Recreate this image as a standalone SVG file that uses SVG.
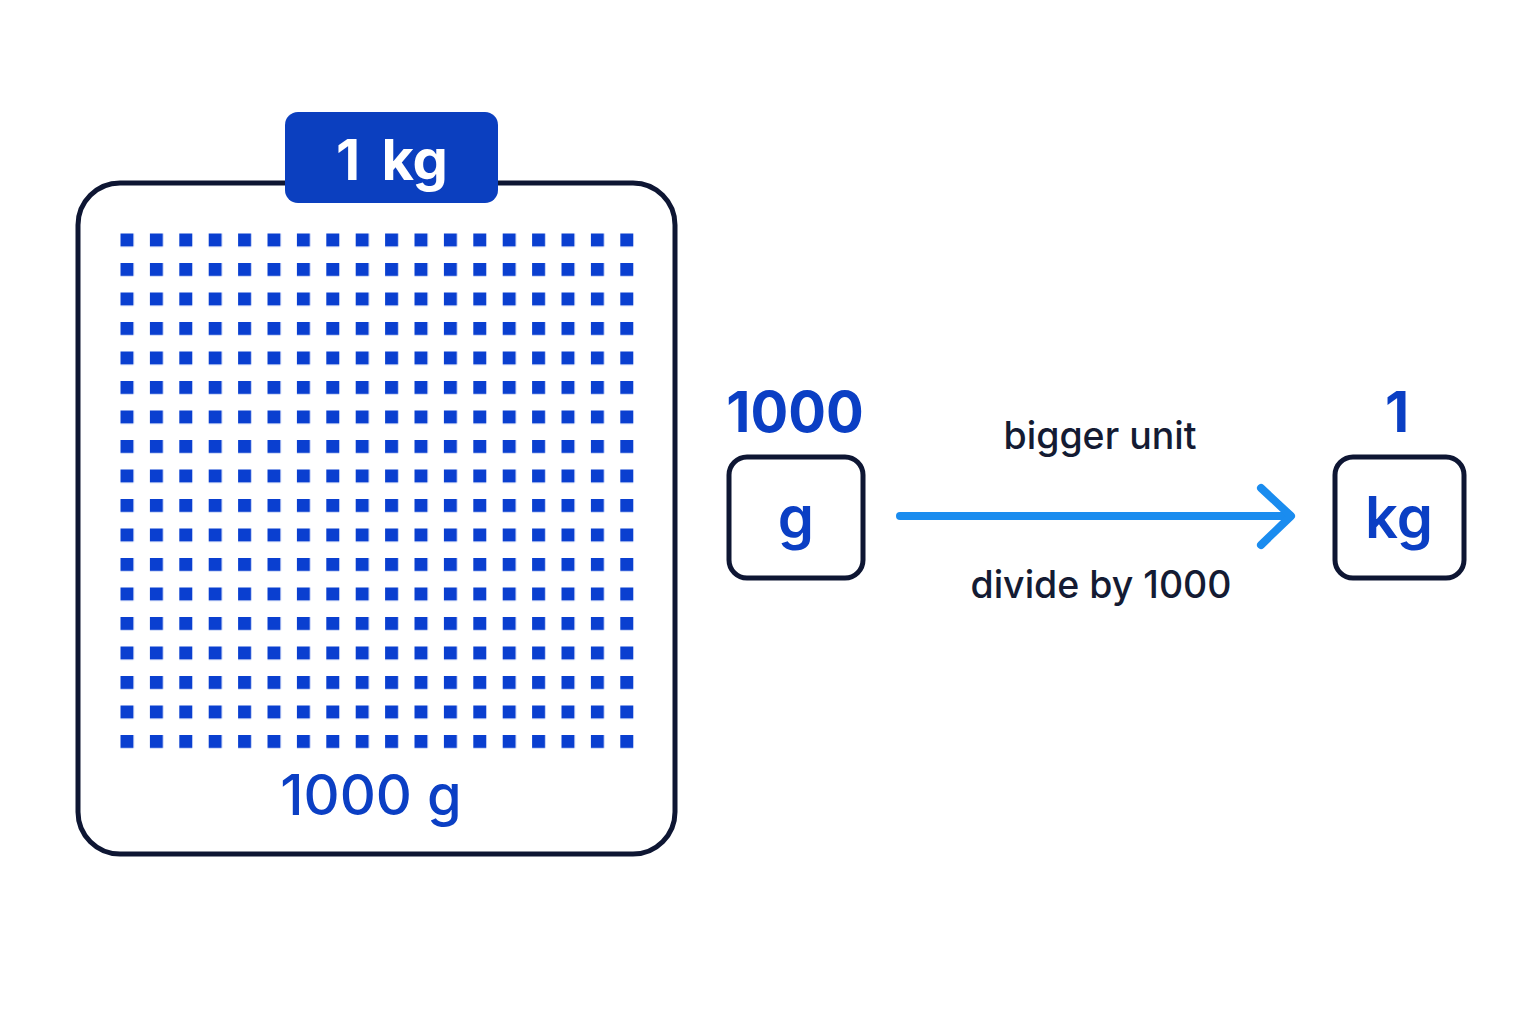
<svg xmlns="http://www.w3.org/2000/svg" width="1536" height="1024" viewBox="0 0 1536 1024">
<defs>
<style>
.frame{fill:#ffffff;stroke:#0e1633;stroke-width:5}
.blue{fill:#0b3fc4;font-family:Inter,"Liberation Sans",sans-serif;text-anchor:middle}
.dark{fill:#141b33;font-family:Inter,"Liberation Sans",sans-serif;text-anchor:middle;font-size:37.5px;font-weight:500}
.conn{stroke:#1a8cef;stroke-width:8;fill:none;stroke-linecap:round;stroke-linejoin:round}
</style>
<pattern id="dots" x="120.5" y="233.5" width="29.4" height="29.5" patternUnits="userSpaceOnUse">
<rect x="0" y="0" width="13" height="13" fill="#0a3fd0"/>
</pattern>
</defs>
<rect width="1536" height="1024" fill="#ffffff"/>
<g id="node-kg-block">
<rect class="frame" x="78" y="183" width="597" height="671" rx="42"/>
<rect x="118" y="230" width="520" height="520" fill="url(#dots)"/>
<rect x="285" y="112" width="213" height="91" rx="13" fill="#0b3fbf"/>
<text x="392" y="180" font-family="Inter,'Liberation Sans',sans-serif" font-size="56" font-weight="700" fill="#ffffff" text-anchor="middle" word-spacing="8">1 kg</text>
<text class="blue" x="371" y="815" font-size="56" font-weight="500">1000 g</text>
</g>
<g id="node-g">
<text class="blue" x="795" y="432" font-size="56" font-weight="700">1000</text>
<rect class="frame" x="729" y="457" width="134" height="121" rx="18"/>
<text class="blue" x="796" y="538" font-size="58" font-weight="600">g</text>
</g>
<g id="node-kgunit">
<text class="blue" x="1397" y="432" font-size="56" font-weight="700">1</text>
<rect class="frame" x="1335" y="457" width="129" height="121" rx="18"/>
<text class="blue" x="1399" y="538" font-size="58" font-weight="600">kg</text>
</g>
<g id="connectors">
<line class="conn" x1="900" y1="516" x2="1290" y2="516"/>
<polyline class="conn" points="1261,488 1291,516 1261,545"/>
<text class="dark" x="1100" y="449">bigger unit</text>
<text class="dark" x="1101" y="598">divide by 1000</text>
</g>
</svg>
